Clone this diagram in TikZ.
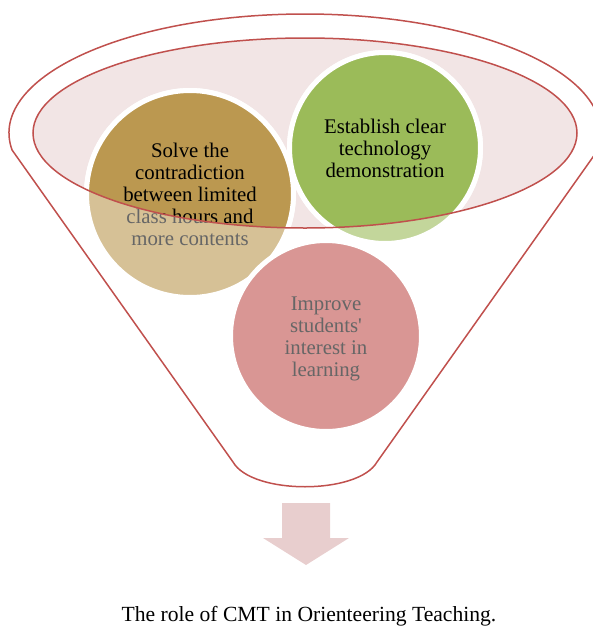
\documentclass[tikz,border=0pt]{standalone}
\usepackage{fontspec}
\newfontfamily\tnr{Liberation Serif}
\definecolor{tanD}{HTML}{BB9850}
\definecolor{tanL}{HTML}{D6C196}
\definecolor{grnD}{HTML}{9BBB59}
\definecolor{grnL}{HTML}{C3D69B}
\definecolor{redL}{HTML}{D99694}
\definecolor{funnelred}{HTML}{C0504D}
\definecolor{innerpink}{HTML}{F2E5E5}
\definecolor{arrowpink}{HTML}{E8CECE}
\definecolor{txtL}{HTML}{666666}
\begin{document}
\begin{tikzpicture}[x=1pt,y=-1pt,
  ball/.style={circle, draw=white, line width=5pt, inner sep=0pt, align=center,
    font=\tnr\fontsize{20.8}{22}\selectfont},
  balltext/.style={inner sep=0pt, align=center, font=\tnr\fontsize{20.8}{22}\selectfont},
  redline/.style={draw=funnelred, line width=1.5pt},
  captionstyle/.style={font=\tnr\fontsize{21.6}{24}\selectfont, anchor=base, inner sep=0pt}]
\useasboundingbox (0,0) rectangle (593,627);
% funnel outline
\draw[redline, line join=round] (305,133) ++(171.8:296 and 119)
  arc[start angle=171.8, end angle=368.2, x radius=296, y radius=119]
  -- (377,462) .. controls (358,495) and (252,495) .. (233,462) -- cycle;
% inner ellipse fill
\fill[innerpink] (305,133) ellipse [x radius=272, y radius=95];
% light (outside) versions
\node[ball, fill=tanL, text=txtL, minimum size=207pt] (tanlight) at (190,194)
  {Solve the\\contradiction\\between limited\\class hours and\\more contents};
\node[ball, fill=grnL, text=txtL, minimum size=191pt] (grnlight) at (385,148)
  {Establish clear\\technology\\demonstration};
\node[ball, fill=redL, minimum size=191pt] (pinkball) at (326,336) {};
\node[balltext, text=txtL] (pinktext) at (326,339)
  {Improve\\students'\\interest in\\learning};
% dark (inside ellipse) versions
\begin{scope}
  \clip (305,133) ellipse [x radius=272, y radius=95];
  \node[ball, fill=tanD, text=black, minimum size=207pt] (tandark) at (190,194)
    {Solve the\\contradiction\\between limited\\class hours and\\more contents};
  \node[ball, fill=grnD, text=black, minimum size=191pt] (grndark) at (385,148)
    {Establish clear\\technology\\demonstration};
\end{scope}
% inner ellipse outline
\draw[redline] (305,133) ellipse [x radius=272, y radius=95];
% arrow
\fill[arrowpink] (282,503) -- (330,503) -- (330,538) -- (349,538) -- (306,565)
  -- (263,538) -- (282,538) -- cycle;
% caption
\node[captionstyle] (caption) at (309,621.5) {The role of CMT in Orienteering Teaching.};
\end{tikzpicture}
\end{document}
